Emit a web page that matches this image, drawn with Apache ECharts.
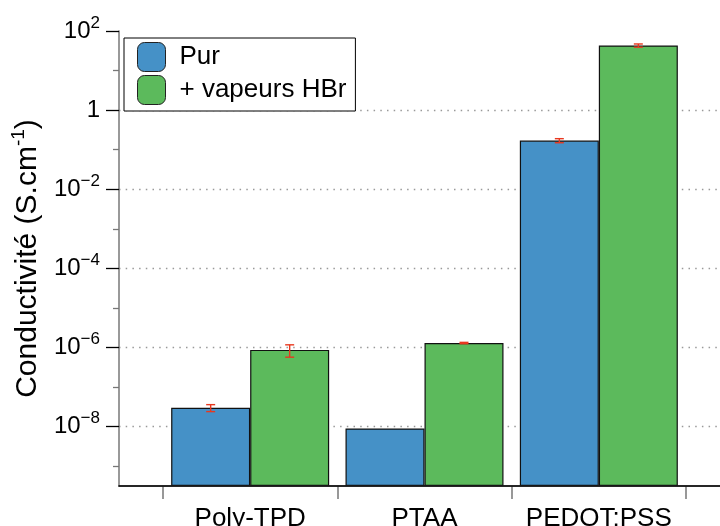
<!DOCTYPE html>
<html><head><meta charset="utf-8">
<script src="https://cdn.jsdelivr.net/npm/echarts@6/dist/echarts.min.js"></script>
<style>html,body{margin:0;padding:0;background:#fff}#c{width:720px;height:526px}</style>
</head><body><div id="c"></div>
<script>
// ---- data ----
const categories = ['Poly-TPD', 'PTAA', 'PEDOT:PSS'];
const seriesNames = ['Pur', '+ vapeurs HBr'];
const purValues = [3.0e-8, 9.0e-9, 0.17];
const purErrors = [0.6e-8, 0, 0.02];
const hbrValues = [8.7e-7, 1.3e-6, 43];
const hbrErrors = [3.0e-7, 0.05e-6, 4];
const majorExponents = [-8, -6, -4, -2, 0, 2];
const gridExponents = [-8, -6, -4, -2, 0];
const minorExponents = [-9, -7, -5, -3, -1, 1];
const logMin = -9.5, logMax = 2;

// ---- helpers ----
const F = "'Liberation Sans', Arial, Helvetica, sans-serif";
const BAR_W = 79;
const toAxis = v => Math.log10(v) - logMin;
const expToAxis = e => e - logMin;

function tickLabel(value) {
  const e = Math.round(value + logMin);
  if (e === 0) return '{b|1}';
  return '{b|10}{s|' + (e < 0 ? '\u2212' + (-e) : String(e)) + '}';
}

function errorSeries(name, values, errors, side) {
  return {
    type: 'custom', name: name + ' err', xAxisIndex: 1, yAxisIndex: 3, z: 10,
    data: values.map((v, i) => [i, toAxis(v - errors[i]), toAxis(v + errors[i]), errors[i]]),
    renderItem(params, api) {
      if (!api.value(3)) return null;
      const lo = api.coord([api.value(0), api.value(1)]);
      const hi = api.coord([api.value(0), api.value(2)]);
      const x = lo[0] + side * BAR_W / 2;
      const w = 4.5;
      const st = { stroke: '#e8381f', lineWidth: 1.4 };
      return { type: 'group', children: [
        { type: 'line', shape: { x1: x, y1: lo[1], x2: x, y2: hi[1] }, style: st },
        { type: 'line', shape: { x1: x - w, y1: lo[1], x2: x + w, y2: lo[1] }, style: st },
        { type: 'line', shape: { x1: x - w, y1: hi[1], x2: x + w, y2: hi[1] }, style: st }
      ]};
    }
  };
}

const chart = echarts.init(document.getElementById('c'), null, { renderer: 'canvas' });
chart.setOption({
  animation: false,
  backgroundColor: '#fff',
  textStyle: { fontFamily: F },
  grid: [
    { left: 119, top: 31, width: 640, height: 455, outerBoundsMode: 'none', containLabel: false },
    { left: 163, top: 31, width: 523, height: 455, outerBoundsMode: 'none', containLabel: false }
  ],
  legend: {
    data: seriesNames, left: 124, top: 38, orient: 'vertical',
    itemWidth: 28, itemHeight: 29, itemGap: 3, padding: [4, 9, 6, 13],
    borderColor: '#000', borderWidth: 1, backgroundColor: '#fff', icon: 'roundRect',
    textStyle: { fontSize: 26, fontFamily: F, color: '#000', padding: [0, 0, 0, 9] },
    itemStyle: { borderColor: '#222', borderWidth: 1 }
  },
  xAxis: [
    { gridIndex: 0, type: 'value', min: 0, max: 1, position: 'bottom', z: 5,
      axisLine: { show: true, lineStyle: { color: '#777', width: 1.5 } },
      axisTick: { show: false }, axisLabel: { show: false }, splitLine: { show: false } },
    { gridIndex: 1, type: 'category', data: categories, position: 'bottom',
      axisLine: { show: false },
      axisTick: { show: true, length: 13, interval: 0, lineStyle: { color: '#777', width: 1.5 } },
      axisLabel: { fontSize: 26, fontFamily: F, color: '#000', margin: 20, interval: 0 },
      splitLine: { show: false } },
    { gridIndex: 0, type: 'value', min: 0, max: 1, position: 'top', z: 5,
      axisLine: { show: true, lineStyle: { color: '#000', width: 1.5 } },
      axisTick: { show: false }, axisLabel: { show: false }, splitLine: { show: false } }
  ],
  yAxis: [
    { gridIndex: 0, type: 'value', min: 0, max: logMax - logMin, position: 'left', z: 5,
      axisLine: { show: true, lineStyle: { color: '#777', width: 1.5 } },
      axisTick: { show: true, length: 13, customValues: majorExponents.map(expToAxis),
                  lineStyle: { color: '#000', width: 1.3 } },
      axisLabel: { customValues: majorExponents.map(expToAxis), margin: 19, formatter: tickLabel,
        rich: {
          b: { fontSize: 24, fontFamily: F, color: '#000', lineHeight: 33 },
          s: { fontSize: 17, fontFamily: F, color: '#000', lineHeight: 17, verticalAlign: 'top' }
        } },
      splitLine: { show: false },
      name: '{t|Conductivité (S.cm}{s|-1}{t|)}', nameLocation: 'middle', nameGap: 70, nameRotate: 90,
      nameTextStyle: { rich: {
        t: { fontSize: 30, fontFamily: F, color: '#000', lineHeight: 38 },
        s: { fontSize: 19, fontFamily: F, color: '#000', lineHeight: 19, verticalAlign: 'top' }
      } } },
    { gridIndex: 0, type: 'value', min: 0, max: logMax - logMin, position: 'left',
      axisLine: { show: false },
      axisTick: { show: true, length: 6, customValues: minorExponents.map(expToAxis),
                  lineStyle: { color: '#777', width: 1.3 } },
      axisLabel: { show: false }, splitLine: { show: false } },
    { gridIndex: 0, type: 'value', min: 0, max: logMax - logMin, position: 'left',
      axisLine: { show: false }, axisLabel: { show: false },
      axisTick: { show: false, customValues: gridExponents.map(expToAxis) },
      splitLine: { show: true, lineStyle: { type: [1.5, 5.2], color: '#999', width: 1.3 } } },
    { gridIndex: 1, type: 'value', min: 0, max: logMax - logMin, show: false }
  ],
  series: [
    { type: 'bar', name: seriesNames[0], xAxisIndex: 1, yAxisIndex: 3, barWidth: BAR_W, barGap: '0%',
      data: purValues.map(toAxis),
      itemStyle: { color: '#4591c7', borderColor: '#111', borderWidth: 1.2 } },
    { type: 'bar', name: seriesNames[1], xAxisIndex: 1, yAxisIndex: 3, barWidth: BAR_W, barGap: '0%',
      data: hbrValues.map(toAxis),
      itemStyle: { color: '#5cba5c', borderColor: '#111', borderWidth: 1.2 } },
    errorSeries(seriesNames[0], purValues, purErrors, -1),
    errorSeries(seriesNames[1], hbrValues, hbrErrors, 1)
  ]
});
</script></body></html>
